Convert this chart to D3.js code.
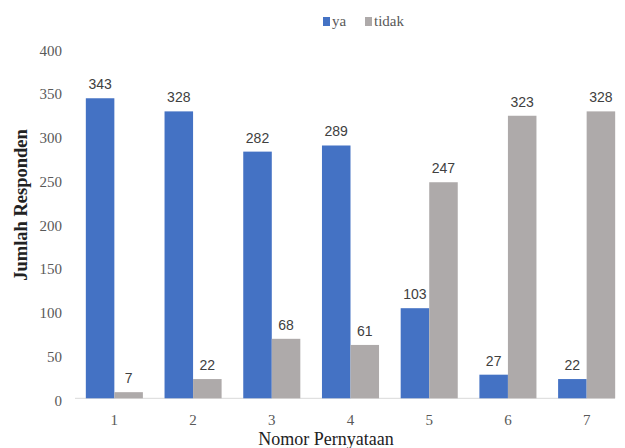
<!DOCTYPE html>
<html><head><meta charset="utf-8">
<script src="https://cdn.jsdelivr.net/npm/d3@7"></script>
<style>body{margin:0;background:#fff}svg{display:block}</style>
</head><body>
<script>
const categories = ["1","2","3","4","5","6","7"];
const seriesNames = ["ya","tidak"];
const ya = [343,328,282,289,103,27,22];
const tidak = [7,22,68,61,247,323,328];
const yTicks = [0,50,100,150,200,250,300,350,400];
const colors = {ya:"#4472C4", tidak:"#AEAAAA"};

const W=625,H=448;
const svg=d3.select("body").append("svg").attr("width",W).attr("height",H);
const x=d3.scaleBand().domain(categories).range([75,626]).paddingInner(0.275).paddingOuter(0.1375);
const xs=d3.scaleBand().domain(seriesNames).range([0,x.bandwidth()]);
const y=d3.scaleLinear().domain([0,400]).range([398.3,48.4]);
const data=categories.map((c,i)=>({c, ya:ya[i], tidak:tidak[i]}));

// axis line
svg.append("line").attr("x1",75).attr("x2",615).attr("y1",y(0)).attr("y2",y(0)).attr("stroke","#d9d9d9").attr("stroke-width",1);

const g=svg.append("g");
data.forEach(d=>{
  seriesNames.forEach(s=>{
    g.append("rect").attr("x",x(d.c)+xs(s)).attr("y",y(d[s])).attr("width",xs.bandwidth()).attr("height",y(0)-y(d[s])).attr("fill",colors[s]);
    g.append("text").attr("x",x(d.c)+xs(s)+xs.bandwidth()/2).attr("y",y(d[s])-9)
      .attr("text-anchor","middle").attr("font-family","'Liberation Sans',Arial,sans-serif")
      .attr("font-size",14).attr("fill","#404040").text(d[s]);
  });
});

// y axis labels
const ya_ax=svg.append("g").attr("transform","translate(62,0)").call(d3.axisLeft(y).tickValues(yTicks).tickSize(0).tickPadding(0));
ya_ax.select(".domain").remove();
ya_ax.selectAll("text").attr("font-family","'Liberation Serif','Times New Roman',serif").attr("font-size",15).attr("fill","#595959").attr("dy","0.45em");

// x axis labels
const xa=svg.append("g").attr("transform",`translate(0,${y(0)})`).call(d3.axisBottom(x).tickSize(0).tickPadding(16));
xa.select(".domain").remove();
xa.selectAll("text").attr("font-family","'Liberation Serif','Times New Roman',serif").attr("font-size",15).attr("fill","#595959");

// titles
svg.append("text").attr("x",326).attr("y",445).attr("text-anchor","middle").attr("font-family","'Liberation Serif','Times New Roman',serif").attr("font-size",18).attr("fill","#222").text("Nomor Pernyataan");
svg.append("text").attr("transform","translate(27,205) rotate(-90)").attr("text-anchor","middle").attr("font-family","'Liberation Serif','Times New Roman',serif").attr("font-weight","bold").attr("font-size",18.5).attr("fill","#222").text("Jumlah Responden");

// legend
const lg=svg.append("g");
const legX=[323,365];
seriesNames.forEach((s,i)=>{
  lg.append("rect").attr("x",legX[i]).attr("y",17).attr("width",7).attr("height",9).attr("fill",colors[s]);
  lg.append("text").attr("x",legX[i]+9).attr("y",26).attr("font-family","'Liberation Serif','Times New Roman',serif").attr("font-size",15).attr("fill","#595959").text(s);
});
</script>
</body></html>
